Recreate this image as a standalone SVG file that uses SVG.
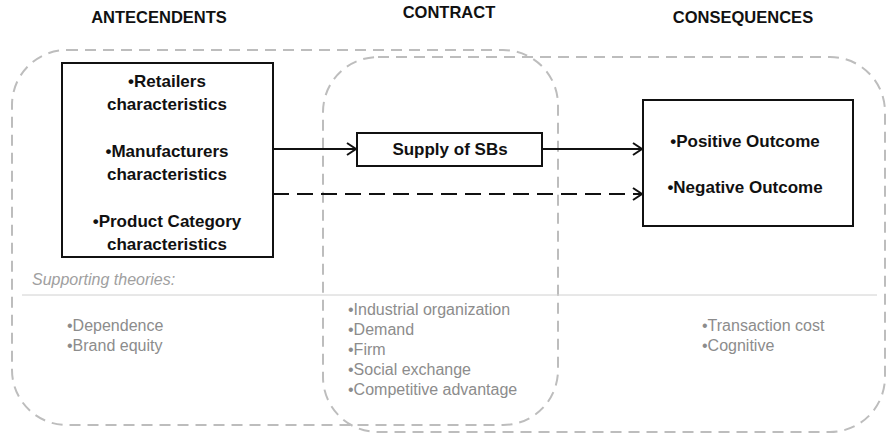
<svg xmlns="http://www.w3.org/2000/svg" width="889" height="436" viewBox="0 0 889 436">
<style>
.bg{fill:#fff}
.region{fill:none;stroke:#bdbdbd;stroke-width:2;stroke-dasharray:11 7}
.box{fill:#fff;stroke:#111;stroke-width:2}
.hdr{font-family:"Liberation Sans",Arial,sans-serif;font-weight:bold;font-size:16.5px;fill:#111;text-anchor:middle}
.lbl{font-family:"Liberation Sans",Arial,sans-serif;font-weight:bold;font-size:17px;fill:#111;text-anchor:middle}
.theo{font-family:"Liberation Sans",Arial,sans-serif;font-style:italic;font-size:16px;fill:#a0a0a0}
.item{font-family:"Liberation Sans",Arial,sans-serif;font-size:16px;fill:#8c8c8c}
.sep{stroke:#d0d0d0;stroke-width:1}
.conn{fill:none;stroke:#111;stroke-width:2}
.dash{stroke-dasharray:16 8}
</style>
<defs>
<marker id="arr" markerUnits="userSpaceOnUse" markerWidth="14" markerHeight="16" refX="11" refY="7" orient="auto">
<path d="M2,1 L11,7 L2,13" fill="none" stroke="#111" stroke-width="2"/>
</marker>
</defs>
<rect class="bg" x="0" y="0" width="889" height="436"/>
<g id="regions">
<rect id="region-left" class="region" x="12" y="50" width="546" height="375" rx="55" ry="55"/>
<rect id="region-right" class="region" x="323" y="57" width="562" height="375" rx="55" ry="55"/>
</g>
<g id="headers">
<text class="hdr" x="159" y="23">ANTECENDENTS</text>
<text class="hdr" x="449" y="18">CONTRACT</text>
<text class="hdr" x="743" y="23">CONSEQUENCES</text>
</g>
<line class="sep" x1="22" y1="295" x2="877" y2="295"/>
<g id="connectors">
<line class="conn" x1="273" y1="149" x2="356" y2="149" marker-end="url(#arr)"/>
<line class="conn" x1="542" y1="149" x2="642" y2="149" marker-end="url(#arr)"/>
<line class="conn dash" x1="273" y1="194" x2="642" y2="194" marker-end="url(#arr)"/>
</g>
<g id="antecedents">
<rect class="box" x="62" y="63" width="211" height="194"/>
<text class="lbl" x="167" y="87">•Retailers</text>
<text class="lbl" x="167" y="110">characteristics</text>
<text class="lbl" x="167" y="157">•Manufacturers</text>
<text class="lbl" x="167" y="180">characteristics</text>
<text class="lbl" x="167" y="227">•Product Category</text>
<text class="lbl" x="167" y="250">characteristics</text>
</g>
<g id="supply">
<rect class="box" x="357" y="133" width="185" height="33"/>
<text class="lbl" x="450" y="155">Supply of SBs</text>
</g>
<g id="outcomes">
<rect class="box" x="643" y="100" width="210" height="126"/>
<text class="lbl" x="745" y="147">•Positive Outcome</text>
<text class="lbl" x="745" y="193">•Negative Outcome</text>
</g>
<g id="theories">
<text class="theo" x="32" y="285">Supporting theories:</text>
<text class="item" x="67" y="331">•Dependence</text>
<text class="item" x="67" y="351">•Brand equity</text>
<text class="item" x="348" y="315">•Industrial organization</text>
<text class="item" x="348" y="335">•Demand</text>
<text class="item" x="348" y="355">•Firm</text>
<text class="item" x="348" y="375">•Social exchange</text>
<text class="item" x="348" y="395">•Competitive advantage</text>
<text class="item" x="702" y="331">•Transaction cost</text>
<text class="item" x="702" y="351">•Cognitive</text>
</g>
</svg>
